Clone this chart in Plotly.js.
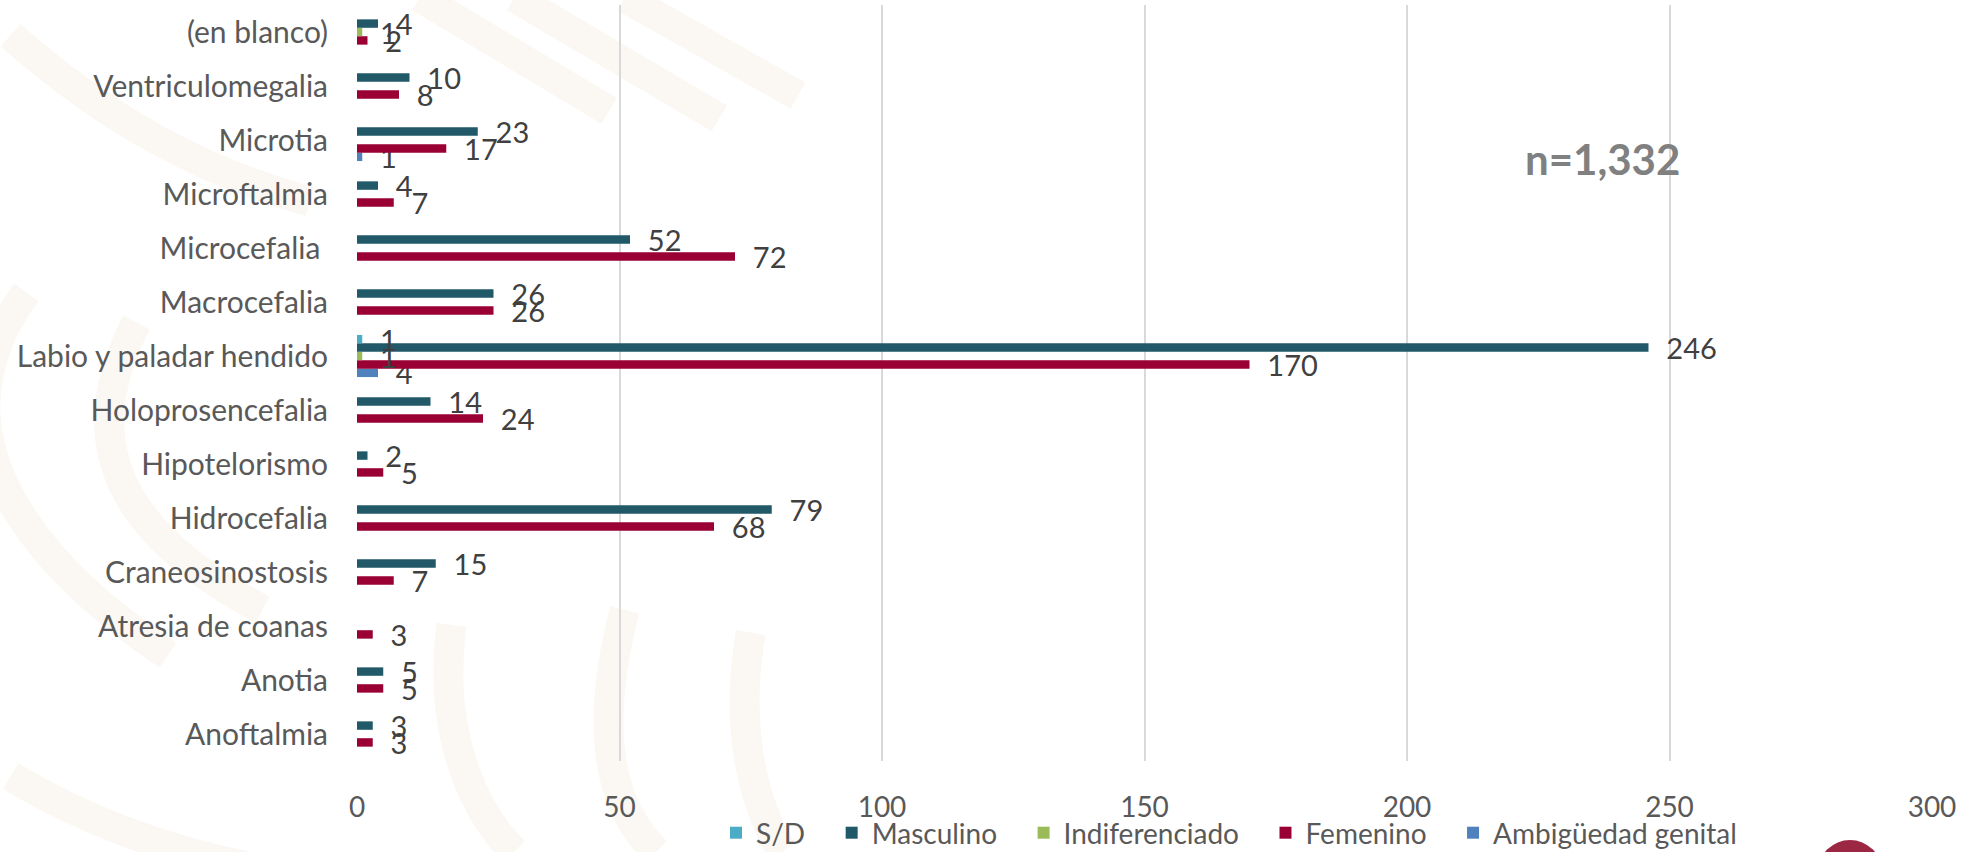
<!DOCTYPE html>
<html>
<head>
<meta charset="utf-8">
<script src="https://cdn.plot.ly/plotly-3.0.1.min.js"></script>
<style>
  html, body { margin: 0; padding: 0; background: #ffffff; }
  #chart { width: 1980px; height: 852px; }
</style>
</head>
<body>
<div id="chart"></div>
<script>
// Malformaciones registradas por sexo
const categories = [
  "Anoftalmia", "Anotia", "Atresia de coanas", "Craneosinostosis", "Hidrocefalia",
  "Hipotelorismo", "Holoprosencefalia", "Labio y paladar hendido", "Macrocefalia",
  "Microcefalia\u00a0", "Microftalmia", "Microtia", "Ventriculomegalia", "(en blanco)"
];

const sinDato        = [null, null, null, null, null, null, null, 1,   null, null, null, null, null, null];
const masculino      = [3,    5,    null, 15,   79,   2,    14,   246, 26,   52,   4,    23,   10,   4];
const indiferenciado = [null, null, null, null, null, null, null, 1,   null, null, null, null, null, 1];
const femenino       = [3,    5,    3,    7,    68,   5,    24,   170, 26,   72,   7,    17,   8,    2];
const ambiguedad     = [null, null, null, null, null, null, null, 4,   null, null, null, 1,    null, null];

const xTicks = [0, 50, 100, 150, 200, 250, 300];
const totalLabel = "n=1,332";

const FONT = "Lato, 'Open Sans', sans-serif";
const GAP = "\u00a0\u00a0";   // space between bar end and its value

function series(name, values, color) {
  return {
    type: "bar",
    orientation: "h",
    name: name + "\u00a0\u00a0\u00a0",
    y: categories,
    x: values,
    marker: { color: color },
    text: values.map(v => (v === null ? "" : GAP + v)),
    textposition: "outside",
    textangle: 0,
    constraintext: "none",
    cliponaxis: false,
    textfont: { family: FONT, size: 29, color: "#404040" },
    hoverinfo: "skip"
  };
}

// Trace order runs bottom-to-top inside each group; the legend lists it reversed.
const traces = [
  series("Ambigüedad genital", ambiguedad, "#4f81bd"),
  series("Femenino", femenino, "#9a0033"),
  series("Indiferenciado", indiferenciado, "#9bbb59"),
  series("Masculino", masculino, "#215968"),
  series("S/D", sinDato, "#4bacc6")
];

// Faint beige strokes in the page background
const beige = "#fbf8f3";
const decor = [
  "M 0.04,1.01 L 0.16,0.86",
  "M 0.10,1.01 L 0.23,0.85",
  "M 0.17,1.01 L 0.28,0.88",
  "M -0.22,0.96 C -0.16,0.85 -0.10,0.78 -0.03,0.74",
  "M -0.21,0.62 C -0.27,0.45 -0.22,0.28 -0.12,0.14",
  "M -0.14,0.58 C -0.18,0.42 -0.15,0.30 -0.06,0.20",
  "M 0.06,0.18 C 0.05,0.02 0.08,-0.08 0.10,-0.12",
  "M 0.17,0.20 C 0.15,0.04 0.16,-0.06 0.19,-0.12",
  "M 0.25,0.17 C 0.24,0.05 0.25,-0.05 0.27,-0.12",
  "M -0.22,-0.02 Q -0.14,-0.12 -0.04,-0.15"
].map(p => ({
  type: "path", xref: "paper", yref: "paper", layer: "below",
  path: p, line: { color: beige, width: 30 }
}));

// Plot area: x 357..1932, y 5..761 (px)
const PL = 357, PR = 1932, PT = 5, PB = 761;
const px = x => (x - PL) / (PR - PL);
const py = y => (PB - y) / (PB - PT);

const layout = {
  width: 1980,
  height: 852,
  paper_bgcolor: "#ffffff",
  plot_bgcolor: "rgba(0,0,0,0)",
  margin: { l: PL, r: 1980 - PR, t: PT, b: 852 - PB, pad: 0 },
  barmode: "group",
  bargap: 0.22,
  bargroupgap: 0,
  showlegend: true,
  legend: {
    orientation: "h",
    traceorder: "reversed",
    xref: "container", yref: "container",
    x: 716 / 1980, xanchor: "left",
    y: (852 - 833) / 852, yanchor: "middle",
    font: { family: FONT, size: 28, color: "#595959" },
    bgcolor: "rgba(0,0,0,0)",
    itemwidth: 30,
    tracegroupgap: 0
  },
  xaxis: {
    range: [0, 300],
    tickvals: xTicks,
    ticktext: xTicks.map(String),
    showgrid: true,
    gridcolor: "#d9d9d9",
    gridwidth: 2,
    zeroline: false,
    showline: false,
    ticks: "",
    ticklabelstandoff: 27,
    tickfont: { family: FONT, size: 28, color: "#595959" },
    fixedrange: true
  },
  yaxis: {
    type: "category",
    categoryorder: "array",
    categoryarray: categories,
    showgrid: false,
    zeroline: false,
    showline: false,
    ticks: "",
    ticklabelstandoff: 28,
    tickfont: { family: FONT, size: 30, color: "#595959" },
    fixedrange: true
  },
  shapes: decor.concat([
    {
      type: "circle", xref: "paper", yref: "paper", layer: "above",
      x0: px(1818), x1: px(1882), y0: py(904), y1: py(840),
      fillcolor: "#9b2743", line: { width: 0 }
    }
  ]),
  annotations: [
    {
      text: totalLabel,
      xref: "paper", yref: "paper",
      x: px(1602), y: py(159),
      xanchor: "center", yanchor: "middle",
      showarrow: false,
      font: { family: FONT, size: 42, color: "#808080", weight: "bold" }
    }
  ]
};

Plotly.newPlot("chart", traces, layout, { displayModeBar: false, staticPlot: true });
</script>
</body>
</html>
